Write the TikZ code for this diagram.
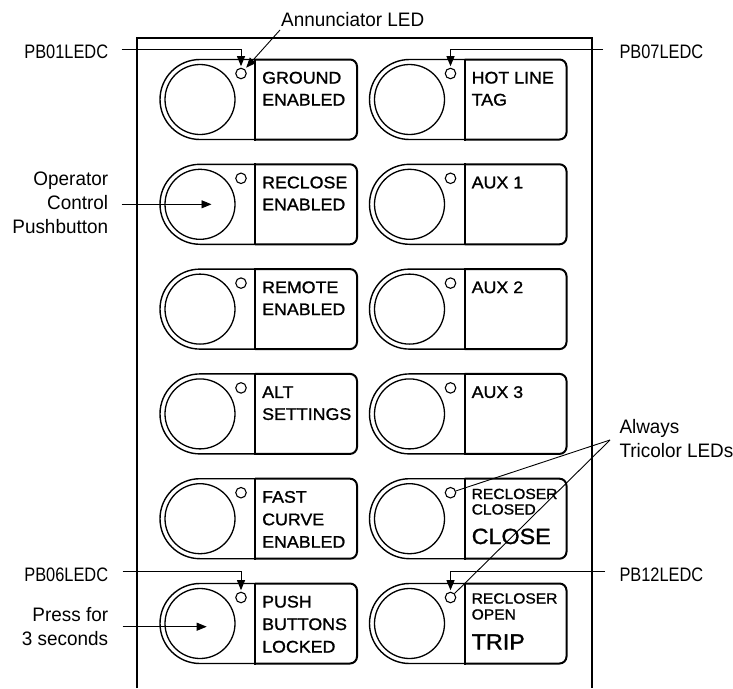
\documentclass[tikz,border=0pt]{standalone}
\usepackage{fontspec}
\setmainfont{Liberation Sans}
\newfontfamily\calfont{Liberation Sans}[FakeStretch=0.97]
\newfontfamily\pbfont{Liberation Sans}[FakeStretch=0.84]
\newfontfamily\lblfont{Liberation Sans}[FakeStretch=1.06,FakeBold=1.2]
\usetikzlibrary{arrows.meta,calc}
\tikzset{
  outerline/.style={line width=1.4pt},
  boxline/.style={line width=2pt},
  led/.style={circle,draw,line width=1.1pt,minimum size=10.5pt,inner sep=0pt},
  btncircle/.style={circle,draw,line width=1.3pt,minimum size=70pt,inner sep=0pt},
  leader/.style={line width=0.9pt},
  arr/.style={leader,-{Triangle[length=10pt,width=8pt]}},
  lbl/.style={anchor=base west,inner sep=0pt,font=\lblfont\fontsize{16.8}{20}\selectfont},
  smalllbl/.style={anchor=base west,inner sep=0pt,font=\lblfont\fontsize{14.7}{17}\selectfont},
  biglbl/.style={anchor=base west,inner sep=0pt,font=\lblfont\fontsize{22}{26}\selectfont},
  call/.style={inner sep=0pt,font=\calfont\fontsize{19.5}{24}\selectfont},
  pbl/.style={inner sep=0pt,font=\pbfont\fontsize{19.5}{24}\selectfont},
  pics/pbtn/.style={code={
    \draw[outerline] (95,0) -- (40,0) arc[start angle=-90,end angle=-270,radius=40] -- (95,80);
    \node[btncircle] (-btn) at (40,40) {};
    \node[led] (-led) at (81,14) {};
    \draw[boxline,rounded corners=7pt] (95,0) -- (197,0) -- (197,80) -- (95,80);
    \draw[boxline,line cap=rect] (95,0) -- (95,80);
  }}
}
\begin{document}
\begin{tikzpicture}[x=1pt,y=-1pt]
\useasboundingbox (0,0) rectangle (733,688);
% panel
\draw[line width=1.2pt] (137,688) -- (137,38) -- (592,38) -- (592,688);
% buttons
\pic (b00) at (160,59.5) {pbtn};
\pic (b01) at (160,164.3) {pbtn};
\pic (b02) at (160,269.1) {pbtn};
\pic (b03) at (160,373.9) {pbtn};
\pic (b04) at (160,478.7) {pbtn};
\pic (b05) at (160,583.5) {pbtn};
\pic (b10) at (369.5,59.5) {pbtn};
\pic (b11) at (369.5,164.3) {pbtn};
\pic (b12) at (369.5,269.1) {pbtn};
\pic (b13) at (369.5,373.9) {pbtn};
\pic (b14) at (369.5,478.7) {pbtn};
\pic (b15) at (369.5,583.5) {pbtn};
% left labels
\node[lbl] (t00a) at (262,83.5) {GROUND};
\node[lbl] (t00b) at (262,105.5) {ENABLED};
\node[lbl] (t01a) at (262,188.3) {RECLOSE};
\node[lbl] (t01b) at (262,210.3) {ENABLED};
\node[lbl] (t02a) at (262,293.1) {REMOTE};
\node[lbl] (t02b) at (262,315.1) {ENABLED};
\node[lbl] (t03a) at (262,397.9) {ALT};
\node[lbl] (t03b) at (262,419.9) {SETTINGS};
\node[lbl] (t04a) at (262,502.7) {FAST};
\node[lbl] (t04b) at (262,525.2) {CURVE};
\node[lbl] (t04c) at (262,547.7) {ENABLED};
\node[lbl] (t05a) at (262,607.5) {PUSH};
\node[lbl] (t05b) at (262,630) {BUTTONS};
\node[lbl] (t05c) at (262,652.5) {LOCKED};
% right labels
\node[lbl] (t10a) at (471.5,83.5) {HOT LINE};
\node[lbl] (t10b) at (471.5,105.5) {TAG};
\node[lbl] (t11a) at (471.5,188.3) {AUX 1};
\node[lbl] (t12a) at (471.5,293.1) {AUX 2};
\node[lbl] (t13a) at (471.5,397.9) {AUX 3};
\node[smalllbl] (t14a) at (471.5,499) {RECLOSER};
\node[smalllbl] (t14b) at (471.5,514.5) {CLOSED};
\node[biglbl] (t14c) at (471.5,544) {CLOSE};
\node[smalllbl] (t15a) at (471.5,603.5) {RECLOSER};
\node[smalllbl] (t15b) at (471.5,619.5) {OPEN};
\node[biglbl] (t15c) at (471.5,649.5) {TRIP};
% callout texts
\node[call,anchor=base west] (ann) at (281,26.5) {Annunciator LED};
\node[pbl,anchor=base east] (pb01) at (108.3,58.5) {PB01LEDC};
\node[pbl,anchor=base west] (pb07) at (619.3,58.5) {PB07LEDC};
\node[pbl,anchor=base east] (pb06) at (108.3,581.2) {PB06LEDC};
\node[pbl,anchor=base west] (pb12) at (619.3,581.2) {PB12LEDC};
\node[call,anchor=base east] (op1) at (108.3,185.5) {Operator};
\node[call,anchor=base east] (op2) at (108.3,209.5) {Control};
\node[call,anchor=base east] (op3) at (108.3,233.5) {Pushbutton};
\node[call,anchor=base east] (pr1) at (108.3,621.7) {Press for};
\node[call,anchor=base east] (pr2) at (108.3,645) {3 seconds};
\node[call,anchor=base west] (al1) at (619.3,433) {Always};
\node[call,anchor=base west] (al2) at (619.3,457) {Tricolor LEDs};
% leader start points
\coordinate (c01) at (121.7,49);
\coordinate (c07) at (603,49);
\coordinate (c06) at (122.7,571.7);
\coordinate (c12) at (605,571.7);
\coordinate (cann) at (280,30);
\coordinate (cop) at (121.7,204.3);
\coordinate (cpr) at (122.7,626.7);
\coordinate (ctri) at (610,440);
% leaders
\draw[arr,shorten >=1.5pt] (c01) -| (b00-led.north);
\draw[arr,shorten >=1.5pt] (c07) -| (b10-led.north);
\draw[arr,shorten >=1.5pt] (c06) -| (b05-led.north);
\draw[arr,shorten >=1.5pt] (c12) -| (b15-led.north);
\draw[arr,shorten >=2pt] (cann) -- (b00-led);
\draw[arr] (cop) -- ($(b01-btn.center)+(11.5,0)$);
\draw[arr] (cpr) -- ($(b05-btn.center)+(6.7,3.2)$);
\draw[leader] (ctri) -- (b14-led);
\draw[leader] (ctri) -- (b15-led);
\end{tikzpicture}
\end{document}
